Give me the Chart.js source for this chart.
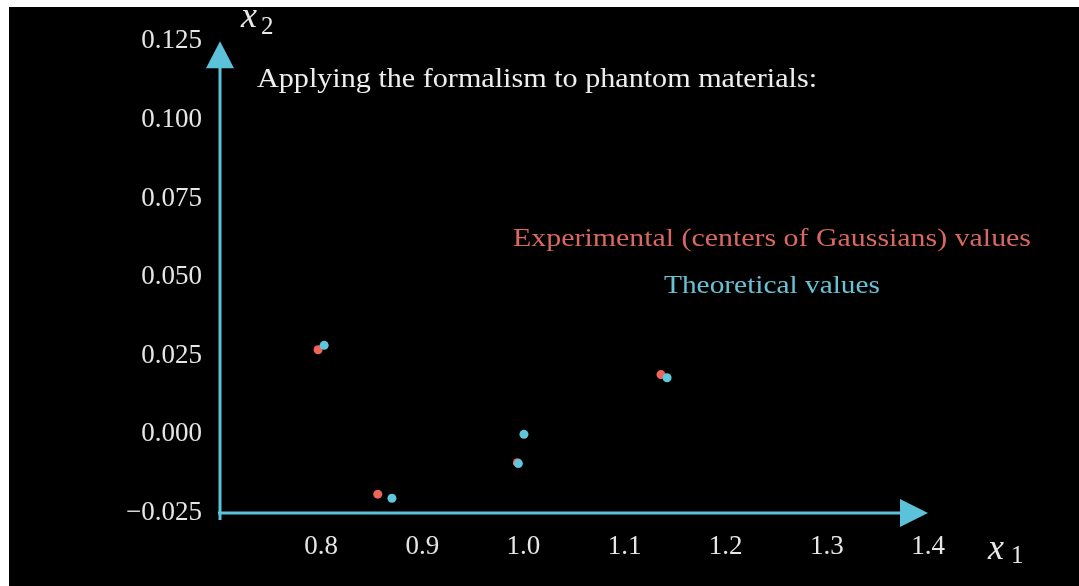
<!DOCTYPE html>
<html>
<head>
<meta charset="utf-8">
<script src="https://cdn.jsdelivr.net/npm/chart.js@4.4.1/dist/chart.umd.min.js"></script>
<style>
html, body { margin: 0; padding: 0; background: #fff; overflow: hidden; }
#wrap { position: absolute; left: 9px; top: 7px; width: 1070px; height: 579px; background: #000; }
</style>
</head>
<body>
<div id="wrap"><canvas id="chart"></canvas></div>
<script>
// tick values and labels
const xTickValues = [0.8, 0.9, 1.0, 1.1, 1.2, 1.3, 1.4];
const xTickLabels = ['0.8', '0.9', '1.0', '1.1', '1.2', '1.3', '1.4'];
const yTickValues = [-0.025, 0.0, 0.025, 0.05, 0.075, 0.1, 0.125];
const yTickLabels = ['\u22120.025', '0.000', '0.025', '0.050', '0.075', '0.100', '0.125'];

// experimental (centers of gaussians)
const expX = [0.797, 0.856, 0.994, 1.136, 1.378];
const expY = [0.0269, -0.0190, -0.0090, 0.0190, 0.1266];
// theoretical
const theoX = [0.803, 0.870, 0.995, 1.0005, 1.142, 1.407];
const theoY = [0.0283, -0.0203, -0.0093, 0.0000, 0.0180, 0.1310];

const titleText = 'Applying the formalism to phantom materials:';
const expLabel = 'Experimental (centers of Gaussians) values';
const theoLabel = 'Theoretical values';

const axisColor = '#5bc2da';
const redColor = '#ee665a';
const cyanColor = '#5fc6dc';
const serif = '"Liberation Serif", "DejaVu Serif", serif';

function toPoints(xs, ys) {
    let pts = [];
    for (let i = 0; i < xs.length; i++) {
        pts.push({x: xs[i], y: ys[i]});
    }
    return pts;
}

// draw text stretched to a given width (the original font is wider than Times)
function fitText(ctx, str, x, y, w, align) {
    let m = ctx.measureText(str).width;
    ctx.save();
    ctx.translate(x, y);
    ctx.scale(w / m, 1);
    ctx.textAlign = align;
    ctx.fillText(str, 0, 0);
    ctx.restore();
}

// arrow axes plus the annotation texts
const arrowAxes = {
    id: 'arrowAxes',
    beforeDatasetsDraw(chart) {
        let ctx = chart.ctx;
        let xs = chart.scales.x, ys = chart.scales.y;
        let x0 = xs.getPixelForValue(xs.min), x1 = xs.getPixelForValue(xs.max);
        let y0 = ys.getPixelForValue(ys.min), y1 = ys.getPixelForValue(ys.max);
        ctx.save();
        ctx.strokeStyle = axisColor;
        ctx.fillStyle = axisColor;
        ctx.lineWidth = 3;
        ctx.beginPath();
        ctx.moveTo(x0 - 2, y0);
        ctx.lineTo(x1 - 20, y0);
        ctx.moveTo(x0, y0 + 7);
        ctx.lineTo(x0, y1 + 20);
        ctx.stroke();
        ctx.beginPath();
        ctx.moveTo(x1, y0);
        ctx.lineTo(x1 - 28, y0 - 14);
        ctx.lineTo(x1 - 28, y0 + 14);
        ctx.closePath();
        ctx.fill();
        ctx.beginPath();
        ctx.moveTo(x0, y1);
        ctx.lineTo(x0 - 14, y1 + 27);
        ctx.lineTo(x0 + 14, y1 + 27);
        ctx.closePath();
        ctx.fill();
        ctx.restore();
    },
    afterDraw(chart) {
        let ctx = chart.ctx;
        let xs = chart.scales.x, ys = chart.scales.y;
        let x0 = xs.getPixelForValue(xs.min), x1 = xs.getPixelForValue(xs.max);
        let y0 = ys.getPixelForValue(ys.min), y1 = ys.getPixelForValue(ys.max);
        ctx.save();
        ctx.textBaseline = 'alphabetic';

        // axis names
        ctx.fillStyle = '#e8e8e8';
        ctx.font = 'italic 36px ' + serif;
        ctx.textAlign = 'left';
        ctx.fillText('x', x0 + 21, y1 - 14);
        ctx.fillText('x', x1 + 60, y0 + 46);
        ctx.font = '25px ' + serif;
        ctx.fillText('2', x0 + 41, y1 - 7);
        ctx.fillText('1', x1 + 83, y0 + 50);

        // title
        ctx.font = '27px ' + serif;
        ctx.fillStyle = '#eeeeee';
        fitText(ctx, titleText, x0 + 37, 80, 560, 'left');

        // legend texts
        ctx.font = '26px ' + serif;
        ctx.fillStyle = '#d9685f';
        fitText(ctx, expLabel, 763, 239, 518, 'center');
        ctx.fillStyle = '#68c2d6';
        fitText(ctx, theoLabel, 763, 286, 216, 'center');
        ctx.restore();
    }
};

const tickFont = {family: serif, size: 27};

new Chart(document.getElementById('chart'), {
    type: 'scatter',
    data: {
        datasets: [
            {
                label: expLabel,
                data: toPoints(expX, expY),
                backgroundColor: redColor,
                borderWidth: 0,
                pointRadius: 4.5,
                clip: false,
                order: 2,
            },
            {
                label: theoLabel,
                data: toPoints(theoX, theoY),
                backgroundColor: cyanColor,
                borderWidth: 0,
                pointRadius: 4.5,
                clip: false,
                order: 1,
            },
        ]
    },
    options: {
        responsive: true,
        maintainAspectRatio: false,
        animation: false,
        layout: {padding: {left: 0, top: 33, right: 151, bottom: 0}},
        plugins: {
            legend: {display: false},
            tooltip: {enabled: false},
        },
        scales: {
            x: {
                type: 'linear',
                min: 0.7,
                max: 1.4,
                grid: {display: false, drawTicks: false},
                border: {display: false},
                ticks: {
                    color: '#e6e6e6',
                    font: tickFont,
                    padding: 18,
                    maxRotation: 0,
                    callback: function(value, index) { return xTickLabels[index]; },
                },
                afterBuildTicks: function(scale) {
                    scale.ticks = xTickValues.map(v => ({value: v}));
                },
                afterFit: function(scale) { scale.height = 73; },
            },
            y: {
                type: 'linear',
                min: -0.025,
                max: 0.125,
                grid: {display: false, drawTicks: false},
                border: {display: false},
                ticks: {
                    color: '#e6e6e6',
                    font: tickFont,
                    padding: 18,
                    callback: function(value, index) { return yTickLabels[index]; },
                },
                afterBuildTicks: function(scale) {
                    scale.ticks = yTickValues.map(v => ({value: v}));
                },
                afterFit: function(scale) { scale.width = 211; },
            },
        },
    },
    plugins: [arrowAxes],
});
</script>
</body>
</html>
